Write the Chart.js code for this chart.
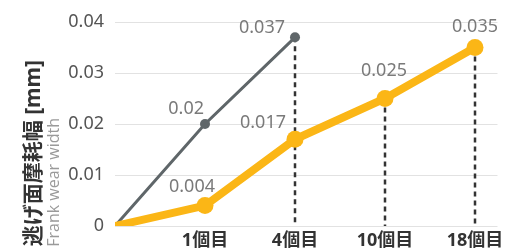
<!DOCTYPE html>
<html><head><meta charset="utf-8">
<script src="https://cdn.jsdelivr.net/npm/chart.js@4/dist/chart.umd.min.js"></script>
<style>html,body{margin:0;padding:0;background:#fff;overflow:hidden}</style>
</head><body>
<canvas id="c" width="506" height="250" style="width:506px;height:250px;display:block"></canvas>
<script>
// ---- data ----
const categories = ['', '1個目', '4個目', '10個目', '18個目'];
const grayValues = [0, 0.02, 0.037];
const orangeValues = [0, 0.004, 0.017, 0.025, 0.035];
const yTickValues = [0, 0.01, 0.02, 0.03, 0.04];
const yTickLabels = ['0', '0.01', '0.02', '0.03', '0.04'];
const dropLineCategories = ['4個目', '10個目', '18個目'];
const yTitle = '逃げ面摩耗幅 [mm]';
const ySubTitle = 'Frank wear width';

const FONT = "'Noto Sans', 'Noto Sans CJK JP', sans-serif";
const toPoints = vals => vals.map((v, i) => ({x: i, y: v}));

const dropLines = {
  id: 'dropLines',
  beforeDatasetsDraw(chart) {
    const {ctx} = chart;
    const xs = chart.scales.x, ys = chart.scales.y;
    ctx.save();
    ctx.strokeStyle = '#333';
    ctx.lineWidth = 2.5;
    ctx.setLineDash([5, 4]);
    dropLineCategories.forEach(cat => {
      const i = categories.indexOf(cat);
      const vals = chart.data.datasets.map(d => d.data[i]).filter(p => p).map(p => p.y);
      const top = Math.max(...vals);
      const px = Math.round(xs.getPixelForValue(i));
      ctx.beginPath();
      ctx.moveTo(px, ys.getPixelForValue(top));
      ctx.lineTo(px, ys.getPixelForValue(0));
      ctx.stroke();
    });
    ctx.restore();
  }
};

const valueLabels = {
  id: 'valueLabels',
  afterDatasetsDraw(chart) {
    const {ctx} = chart;
    ctx.save();
    ctx.font = '18px ' + FONT;
    ctx.fillStyle = '#7a7a7a';
    ctx.textBaseline = 'alphabetic';
    chart.data.datasets.forEach((ds, di) => {
      const meta = chart.getDatasetMeta(di);
      meta.data.forEach((el, i) => {
        const pl = ds.labelPlace[i];
        if (!pl) return;
        ctx.textAlign = pl.align;
        ctx.fillText(String(ds.data[i].y), el.x + pl.dx, el.y + pl.dy);
      });
    });
    ctx.restore();
  }
};

const axisTitles = {
  id: 'axisTitles',
  afterDraw(chart) {
    const {ctx} = chart;
    ctx.save();
    ctx.textBaseline = 'middle';
    ctx.textAlign = 'right';
    ctx.translate(34, 60);
    ctx.rotate(-Math.PI / 2);
    ctx.font = 'bold 21px ' + FONT;
    ctx.fillStyle = '#333';
    ctx.fillText(yTitle, 0, 0);
    ctx.restore();
    ctx.save();
    ctx.textBaseline = 'middle';
    ctx.textAlign = 'right';
    ctx.translate(54, 118);
    ctx.rotate(-Math.PI / 2);
    ctx.font = "16px 'Open Sans', sans-serif";
    ctx.fillStyle = '#9a9a9a';
    ctx.fillText(ySubTitle, 0, 0);
    ctx.restore();
  }
};

new Chart(document.getElementById('c'), {
  type: 'line',
  data: {
    datasets: [
      {
        data: toPoints(orangeValues),
        borderColor: '#fbb616',
        backgroundColor: '#fbb616',
        borderWidth: 8,
        pointRadius: [0, 8.5, 8.5, 8.5, 8.5],
        pointBorderWidth: 0,
        pointHoverRadius: 8.5,
        clip: 0,
        labelPlace: [null,
          {align: 'center', dx: -13, dy: -14},
          {align: 'right', dx: -9, dy: -11},
          {align: 'center', dx: -1, dy: -23},
          {align: 'center', dx: 0, dy: -16}]
      },
      {
        data: toPoints(grayValues),
        borderColor: '#5f6669',
        backgroundColor: '#5f6669',
        borderWidth: 3,
        pointRadius: [0, 5, 5],
        pointBorderWidth: 0,
        clip: 0,
        labelPlace: [null,
          {align: 'right', dx: -1, dy: -10},
          {align: 'right', dx: -10, dy: -4}]
      }
    ]
  },
  options: {
    responsive: false,
    animation: false,
    events: [],
    layout: {padding: {top: 22, right: 4, left: 0, bottom: 0}},
    plugins: {legend: {display: false}, tooltip: {enabled: false}},
    scales: {
      x: {
        type: 'linear',
        min: 0,
        max: 4.25,
        afterBuildTicks: s => { s.ticks = categories.map((c, i) => ({value: i})); },
        afterFit: s => { s.height = 24; s.paddingLeft = 0; s.paddingRight = 0; },
        grid: {display: false},
        border: {display: false},
        ticks: {
          autoSkip: false, maxRotation: 0, padding: -4,
          color: '#333',
          font: {family: FONT, size: 18, weight: 'bold'},
          callback: v => categories[v] ?? ''
        }
      },
      y: {
        min: 0,
        max: 0.04,
        afterBuildTicks: s => { s.ticks = yTickValues.map(v => ({value: v})); },
        afterFit: s => { s.width = 115; },
        grid: {color: '#e2e2e2', lineWidth: 1, drawTicks: false},
        border: {display: false},
        ticks: {
          padding: 11,
          color: '#555',
          font: {family: FONT, size: 18},
          callback: (v) => yTickLabels[yTickValues.indexOf(v)] ?? ''
        }
      }
    }
  },
  plugins: [dropLines, valueLabels, axisTitles]
});
</script>
</body></html>
